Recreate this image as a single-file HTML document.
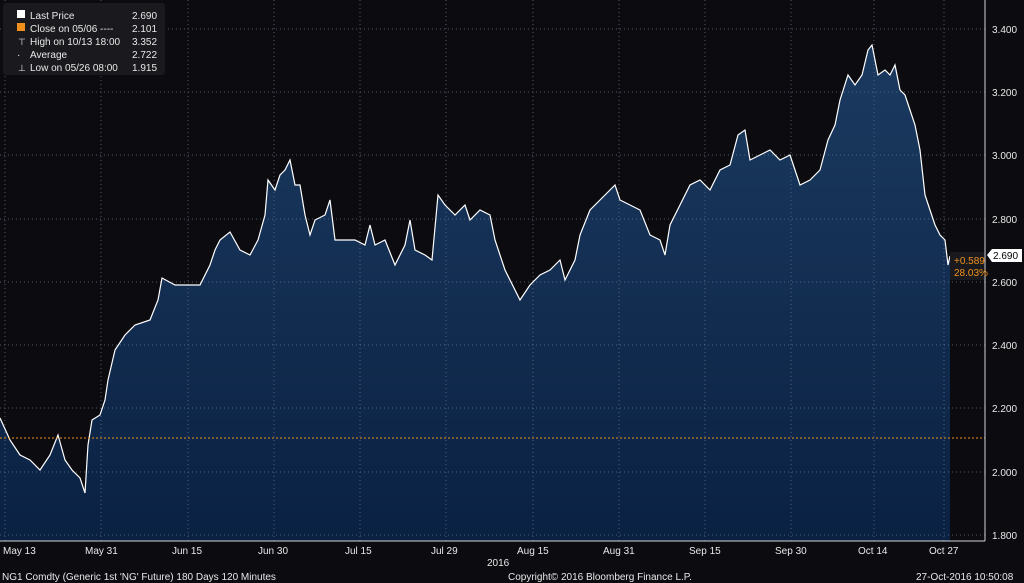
<!DOCTYPE html>
<html><head><meta charset="utf-8"><style>
body{margin:0;background:#0c0c10;}
svg{display:block;font-family:"Liberation Sans",sans-serif;}
</style></head><body>
<svg width="1024" height="583" viewBox="0 0 1024 583">
<defs><linearGradient id="g" x1="0" y1="0" x2="0" y2="1">
<stop offset="0" stop-color="#1b3a60"/><stop offset="1" stop-color="#0a2142"/></linearGradient></defs>
<rect width="1024" height="583" fill="#0c0c10"/>
<path d="M0,418 L10,440 20,455 30,460 40,470 50,455 58,435 65,460 72,470 80,478 85,493 88,445 92,420 100,415 105,400 108,380 115,350 125,335 135,325 150,320 158,300 162,278 175,285 190,285 200,285 210,265 215,250 220,240 230,232 240,250 250,255 258,240 265,215 268,180 275,190 280,175 285,170 290,160 295,185 300,185 305,215 310,235 315,220 325,215 330,200 335,240 345,240 355,240 365,245 370,225 375,245 385,240 395,265 405,245 410,220 415,250 425,255 432,260 438,195 445,205 455,215 465,205 470,220 480,210 490,215 495,240 505,270 515,290 520,300 530,285 540,275 550,270 560,260 565,280 575,260 580,235 590,210 600,200 610,190 615,185 620,200 630,205 640,210 650,235 660,240 665,255 670,225 680,205 690,185 700,180 710,190 720,170 730,165 738,135 745,130 750,160 760,155 770,150 780,160 790,155 800,185 810,180 820,170 828,140 835,125 840,100 848,75 855,85 862,75 868,50 872,45 878,75 885,70 890,75 895,65 900,90 905,95 910,110 915,125 920,150 925,195 930,210 935,225 940,235 945,240 948,265 950,256 L950,541 L0,541 Z" fill="url(#g)"/>
<g stroke="#6a7890" stroke-width="1" stroke-dasharray="1,3" opacity="0.7">
<line x1="0" y1="29" x2="985" y2="29"/><line x1="0" y1="92" x2="985" y2="92"/><line x1="0" y1="155" x2="985" y2="155"/><line x1="0" y1="219" x2="985" y2="219"/><line x1="0" y1="282" x2="985" y2="282"/><line x1="0" y1="345" x2="985" y2="345"/><line x1="0" y1="408" x2="985" y2="408"/><line x1="0" y1="472" x2="985" y2="472"/><line x1="0" y1="535" x2="985" y2="535"/>
<line x1="5" y1="0" x2="5" y2="541"/><line x1="101" y1="0" x2="101" y2="541"/><line x1="188" y1="0" x2="188" y2="541"/><line x1="274" y1="0" x2="274" y2="541"/><line x1="360" y1="0" x2="360" y2="541"/><line x1="446" y1="0" x2="446" y2="541"/><line x1="533" y1="0" x2="533" y2="541"/><line x1="619" y1="0" x2="619" y2="541"/><line x1="705" y1="0" x2="705" y2="541"/><line x1="791" y1="0" x2="791" y2="541"/><line x1="874" y1="0" x2="874" y2="541"/><line x1="944" y1="0" x2="944" y2="541"/>
</g>
<polyline fill="none" stroke="#ffffff" stroke-width="1.2" points="0,418 10,440 20,455 30,460 40,470 50,455 58,435 65,460 72,470 80,478 85,493 88,445 92,420 100,415 105,400 108,380 115,350 125,335 135,325 150,320 158,300 162,278 175,285 190,285 200,285 210,265 215,250 220,240 230,232 240,250 250,255 258,240 265,215 268,180 275,190 280,175 285,170 290,160 295,185 300,185 305,215 310,235 315,220 325,215 330,200 335,240 345,240 355,240 365,245 370,225 375,245 385,240 395,265 405,245 410,220 415,250 425,255 432,260 438,195 445,205 455,215 465,205 470,220 480,210 490,215 495,240 505,270 515,290 520,300 530,285 540,275 550,270 560,260 565,280 575,260 580,235 590,210 600,200 610,190 615,185 620,200 630,205 640,210 650,235 660,240 665,255 670,225 680,205 690,185 700,180 710,190 720,170 730,165 738,135 745,130 750,160 760,155 770,150 780,160 790,155 800,185 810,180 820,170 828,140 835,125 840,100 848,75 855,85 862,75 868,50 872,45 878,75 885,70 890,75 895,65 900,90 905,95 910,110 915,125 920,150 925,195 930,210 935,225 940,235 945,240 948,265 950,256"/>
<line x1="0" y1="438" x2="985" y2="438" stroke="#f0901a" stroke-width="1" stroke-dasharray="2,2"/>
<line x1="985" y1="0" x2="985" y2="541" stroke="#cfd3da"/>
<line x1="0" y1="541" x2="985" y2="541" stroke="#cfd3da"/>
<g fill="#e8e8e8" font-size="10">
<text x="992" y="33">3.400</text><text x="992" y="96">3.200</text><text x="992" y="159">3.000</text><text x="992" y="223">2.800</text><text x="992" y="286">2.600</text><text x="992" y="349">2.400</text><text x="992" y="412">2.200</text><text x="992" y="476">2.000</text><text x="992" y="539">1.800</text>
<text x="3" y="554">May 13</text><text x="85" y="554">May 31</text><text x="172" y="554">Jun 15</text><text x="258" y="554">Jun 30</text><text x="345" y="554">Jul 15</text><text x="431" y="554">Jul 29</text><text x="517" y="554">Aug 15</text><text x="603" y="554">Aug 31</text><text x="689" y="554">Sep 15</text><text x="775" y="554">Sep 30</text><text x="858" y="554">Oct 14</text><text x="929" y="554">Oct 27</text>
<text x="487" y="566">2016</text>
<text x="2" y="580">NG1 Comdty (Generic 1st 'NG' Future) 180 Days 120 Minutes</text>
<text x="508" y="580">Copyright© 2016 Bloomberg Finance L.P.</text>
<text x="916" y="580">27-Oct-2016 10:50:08</text>
</g>
<path d="M987,255 L992,249 L1022,249 L1022,262 L992,262 Z" fill="#ffffff"/>
<text x="993" y="259" font-size="10" fill="#000">2.690</text>
<rect x="950" y="252" width="34" height="28" fill="#1a1a1e"/>
<text x="954" y="264" font-size="10" fill="#f0901a">+0.589</text>
<text x="954" y="276" font-size="10" fill="#f0901a">28.03%</text>
<rect x="3" y="3" width="162" height="72" rx="3" fill="#1a1a1e"/>
<g fill="#e8e8e8" font-size="10">
<rect x="17" y="10" width="8" height="8" fill="#fff"/><rect x="17" y="23" width="8" height="8" fill="#f0901a"/>
<text x="30" y="19">Last Price</text><text x="132" y="19">2.690</text>
<text x="30" y="32">Close on 05/06 ----</text><text x="132" y="32">2.101</text>
<text x="30" y="45">High on 10/13 18:00</text><text x="132" y="45">3.352</text>
<text x="30" y="58">Average</text><text x="132" y="58">2.722</text>
<text x="30" y="71">Low on 05/26 08:00</text><text x="132" y="71">1.915</text>
<text x="18" y="45" font-size="9">⊤</text><text x="17" y="58">·</text><text x="18" y="71" font-size="9">⊥</text>
</g>
</svg>
</body></html>
